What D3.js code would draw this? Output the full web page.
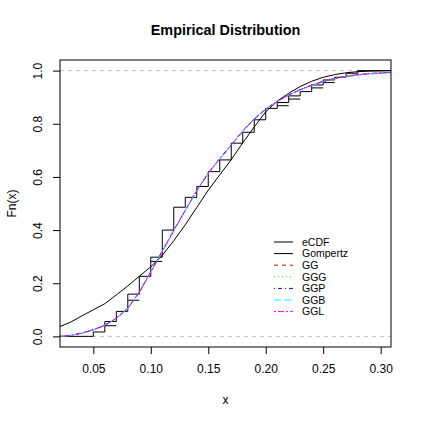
<!DOCTYPE html>
<html>
<head>
<meta charset="utf-8">
<script src="https://cdn.jsdelivr.net/npm/d3@7"></script>
<style>
  body { margin: 0; background: #fff; }
  text { font-family: "Liberation Sans", Arial, sans-serif; }
</style>
</head>
<body>
<svg id="chart" width="422" height="422"></svg>
<script>
// eCDF jump points and level after each jump
const ecdfX = [0.05, 0.06, 0.07, 0.08, 0.09, 0.10, 0.11, 0.12, 0.13, 0.14, 0.15, 0.16,
               0.17, 0.18, 0.19, 0.20, 0.21, 0.22, 0.23, 0.24, 0.25, 0.26, 0.27, 0.28];
const ecdfF = [0.0165, 0.056, 0.094, 0.159, 0.226, 0.298, 0.40, 0.486, 0.523, 0.564, 0.62, 0.664,
               0.727, 0.768, 0.815, 0.858, 0.88, 0.905, 0.921, 0.946, 0.965, 0.975, 0.99, 1.0];
// inner level of the small boxes seen on some steps (null = none)
const ecdfBox = [null, 0.040, null, 0.136, null, 0.282, null, null, null, null, null, null,
                 null, null, null, null, 0.868, 0.893, null, 0.935, 0.955, null, null, null];

// fitted curves
const curveX   = [0.021, 0.03, 0.04, 0.05, 0.06, 0.07, 0.08, 0.09, 0.10, 0.11, 0.12, 0.13, 0.14, 0.15,
                  0.16, 0.17, 0.18, 0.19, 0.20, 0.21, 0.22, 0.23, 0.24, 0.25, 0.26, 0.27, 0.28, 0.29, 0.30, 0.309];
const gompertz = [0.037, 0.053, 0.077, 0.100, 0.123, 0.156, 0.190, 0.226, 0.262, 0.305, 0.360, 0.420, 0.485, 0.550,
                  0.608, 0.665, 0.728, 0.788, 0.845, 0.885, 0.915, 0.940, 0.960, 0.975, 0.985, 0.992, 0.996, 0.998, 0.999, 1.0];
const gg       = [0.000, 0.003, 0.012, 0.025, 0.041, 0.068, 0.105, 0.166, 0.242, 0.320, 0.398, 0.474, 0.548, 0.614,
                  0.668, 0.720, 0.772, 0.818, 0.855, 0.884, 0.908, 0.928, 0.945, 0.959, 0.970, 0.978, 0.984, 0.988, 0.991, 0.993];
const ggg      = [0.000, 0.003, 0.012, 0.025, 0.041, 0.068, 0.105, 0.166, 0.242, 0.320, 0.398, 0.474, 0.548, 0.614,
                  0.668, 0.720, 0.772, 0.818, 0.855, 0.884, 0.908, 0.928, 0.945, 0.959, 0.970, 0.978, 0.984, 0.988, 0.991, 0.993];
const ggp      = [0.000, 0.003, 0.012, 0.025, 0.042, 0.069, 0.106, 0.167, 0.243, 0.321, 0.399, 0.475, 0.549, 0.615,
                  0.669, 0.721, 0.773, 0.819, 0.856, 0.885, 0.909, 0.929, 0.946, 0.960, 0.971, 0.979, 0.985, 0.989, 0.992, 0.994];
const ggb      = [0.000, 0.003, 0.011, 0.024, 0.041, 0.067, 0.104, 0.165, 0.241, 0.319, 0.397, 0.473, 0.547, 0.613,
                  0.667, 0.719, 0.771, 0.817, 0.854, 0.883, 0.907, 0.927, 0.944, 0.958, 0.969, 0.977, 0.983, 0.987, 0.990, 0.992];
const ggl      = [0.000, 0.003, 0.012, 0.025, 0.041, 0.068, 0.105, 0.166, 0.242, 0.320, 0.398, 0.474, 0.548, 0.614,
                  0.668, 0.720, 0.772, 0.818, 0.855, 0.884, 0.908, 0.928, 0.945, 0.959, 0.970, 0.978, 0.984, 0.988, 0.991, 0.993];

const xTicks = [0.05, 0.10, 0.15, 0.20, 0.25, 0.30];
const yTicks = [0, 0.2, 0.4, 0.6, 0.8, 1.0];

const legendNames = ["eCDF", "Gompertz", "GG", "GGG", "GGP", "GGB", "GGL"];
const legendCols  = ["#000", "#000", "#ff0000", "#00ff00", "#0000ff", "#00ffff", "#ff00ff"];
const legendDash  = [null, null, "4,4", "1,3", "1,3,4,3", "7,3", "2,2,6,2"];

const svg = d3.select("#chart");
const pLeft = 60, pRight = 391, pTop = 60, pBottom = 347;

const x = d3.scaleLinear().domain([0.021, 0.309]).range([pLeft, pRight]);
const y = d3.scaleLinear().domain([-0.04, 1.04]).range([pBottom, pTop]);

svg.append("clipPath").attr("id", "plotclip")
  .append("rect").attr("x", pLeft).attr("y", pTop)
  .attr("width", pRight - pLeft).attr("height", pBottom - pTop);

const plot = svg.append("g").attr("clip-path", "url(#plotclip)");

// reference lines at 0 and 1
plot.selectAll(".ref").data([0, 1]).enter().append("line")
  .attr("x1", pLeft).attr("x2", pRight)
  .attr("y1", d => y(d)).attr("y2", d => y(d))
  .attr("stroke", "#bebebe").attr("stroke-dasharray", "4,4");

// eCDF staircase
const steps = [[x.domain()[0], 0]];
ecdfX.forEach((v, i) => steps.push([v, ecdfF[i]]));
steps.push([x.domain()[1], 1]);
const stepLine = d3.line().x(d => x(d[0])).y(d => y(d[1])).curve(d3.curveStepAfter);
plot.append("path").attr("d", stepLine(steps))
  .attr("fill", "none").attr("stroke", "#000").attr("stroke-width", 1);

ecdfX.forEach((v, i) => {
  if (ecdfBox[i] == null) return;
  plot.append("line")
    .attr("x1", x(v)).attr("x2", x(ecdfX[i + 1]))
    .attr("y1", y(ecdfBox[i])).attr("y2", y(ecdfBox[i]))
    .attr("stroke", "#000").attr("stroke-width", 1);
});

// fitted curves
const series = [gompertz, gg, ggg, ggp, ggb, ggl];
const line = d3.line().x((d, i) => x(curveX[i])).y(d => y(d));
series.forEach((s, k) => {
  plot.append("path").attr("d", line(s))
    .attr("fill", "none")
    .attr("stroke", legendCols[k + 1])
    .attr("stroke-width", 1)
    .attr("stroke-dasharray", legendDash[k + 1]);
});

// box
svg.append("rect").attr("x", pLeft).attr("y", pTop)
  .attr("width", pRight - pLeft).attr("height", pBottom - pTop)
  .attr("fill", "none").attr("stroke", "#000");

// axes
const xAxis = svg.append("g").attr("transform", "translate(0," + pBottom + ")")
  .call(d3.axisBottom(x).tickValues(xTicks).tickFormat(d3.format(".2f")).tickSize(7).tickPadding(10));
const yAxis = svg.append("g").attr("transform", "translate(" + pLeft + ",0)")
  .call(d3.axisLeft(y).tickValues(yTicks).tickFormat(d3.format(".1f")).tickSize(7).tickPadding(10));
[xAxis, yAxis].forEach(a => {
  a.select(".domain").remove();
  a.selectAll("text").attr("font-size", 12).attr("fill", "#000")
    .style("font-family", "'Liberation Sans', Arial, sans-serif");
});
yAxis.selectAll(".tick text")
  .attr("x", null).attr("dy", null)
  .attr("text-anchor", "middle")
  .attr("transform", "translate(-22,0) rotate(-90)")
  .attr("y", 4);

// titles
svg.append("text").attr("x", (pLeft + pRight) / 2).attr("y", 35)
  .attr("text-anchor", "middle").attr("font-size", 14.4).attr("font-weight", "bold")
  .text("Empirical Distribution");
svg.append("text").attr("x", (pLeft + pRight) / 2).attr("y", 404)
  .attr("text-anchor", "middle").attr("font-size", 12).text("x");
svg.append("text")
  .attr("transform", "translate(16," + (pTop + pBottom) / 2 + ") rotate(-90)")
  .attr("text-anchor", "middle").attr("font-size", 12).text("Fn(x)");

// legend
const lg = svg.append("g").attr("transform", "translate(274,242)");
legendNames.forEach((n, i) => {
  const yy = i * 11.6;
  lg.append("line").attr("x1", 0).attr("x2", 19).attr("y1", yy).attr("y2", yy)
    .attr("stroke", legendCols[i]).attr("stroke-dasharray", legendDash[i]);
  lg.append("text").attr("x", 28).attr("y", yy + 3.8)
    .attr("font-size", 10.5).text(n);
});
</script>
</body>
</html>
